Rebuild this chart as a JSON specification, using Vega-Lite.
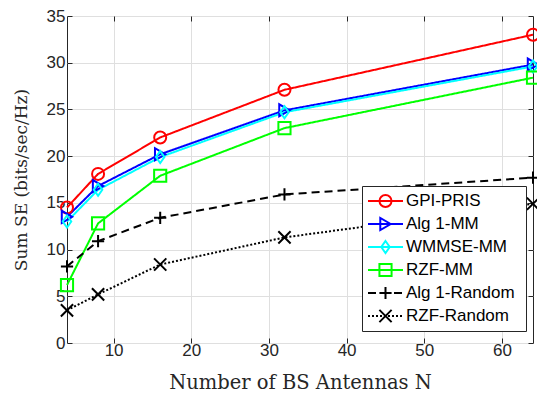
{
  "$schema": "https://vega.github.io/schema/vega-lite/v6.json",
  "width": 466,
  "height": 327,
  "autosize": {"type": "none"},
  "padding": {"left": 67, "top": 16, "right": 4, "bottom": 53},
  "background": "white",
  "config": {
    "view": {"stroke": "#262626", "strokeWidth": 1},
    "axis": {
      "domain": false,
      "grid": true,
      "gridColor": "#dfdfdf",
      "gridWidth": 1,
      "ticks": true,
      "tickSize": -5,
      "tickColor": "#262626",
      "labelFont": "Liberation Sans",
      "labelFontSize": 17,
      "labelColor": "#262626",
      "titleFont": "DejaVu Serif",
      "titleFontSize": 17,
      "titleFontWeight": "normal",
      "titleColor": "#262626"
    }
  },
  "data": {
    "values": [
      {"series": "GPI-PRIS", "N": 4, "SE": 14.5},
      {"series": "GPI-PRIS", "N": 8, "SE": 18.1},
      {"series": "GPI-PRIS", "N": 16, "SE": 22.0},
      {"series": "GPI-PRIS", "N": 32, "SE": 27.1},
      {"series": "GPI-PRIS", "N": 64, "SE": 33.0},
      {"series": "Alg 1-MM", "N": 4, "SE": 13.5},
      {"series": "Alg 1-MM", "N": 8, "SE": 16.8},
      {"series": "Alg 1-MM", "N": 16, "SE": 20.2},
      {"series": "Alg 1-MM", "N": 32, "SE": 24.9},
      {"series": "Alg 1-MM", "N": 64, "SE": 29.8},
      {"series": "WMMSE-MM", "N": 4, "SE": 13.0},
      {"series": "WMMSE-MM", "N": 8, "SE": 16.4},
      {"series": "WMMSE-MM", "N": 16, "SE": 19.9},
      {"series": "WMMSE-MM", "N": 32, "SE": 24.7},
      {"series": "WMMSE-MM", "N": 64, "SE": 29.6},
      {"series": "RZF-MM", "N": 4, "SE": 6.2},
      {"series": "RZF-MM", "N": 8, "SE": 12.8},
      {"series": "RZF-MM", "N": 16, "SE": 17.9},
      {"series": "RZF-MM", "N": 32, "SE": 23.0},
      {"series": "RZF-MM", "N": 64, "SE": 28.4},
      {"series": "Alg 1-Random", "N": 4, "SE": 8.2},
      {"series": "Alg 1-Random", "N": 8, "SE": 10.9},
      {"series": "Alg 1-Random", "N": 16, "SE": 13.4},
      {"series": "Alg 1-Random", "N": 32, "SE": 15.9},
      {"series": "Alg 1-Random", "N": 64, "SE": 17.7},
      {"series": "RZF-Random", "N": 4, "SE": 3.5},
      {"series": "RZF-Random", "N": 8, "SE": 5.2},
      {"series": "RZF-Random", "N": 16, "SE": 8.4},
      {"series": "RZF-Random", "N": 32, "SE": 11.3},
      {"series": "RZF-Random", "N": 64, "SE": 14.9}
    ]
  },
  "layer": [
    {
      "mark": {"type": "line", "strokeWidth": 2},
      "encoding": {
        "x": {
          "field": "N", "type": "quantitative",
          "scale": {"domain": [4, 64], "nice": false, "zero": false},
          "axis": {"values": [10, 20, 30, 40, 50, 60], "title": "Number of BS Antennas N", "titleFontSize": 19.5, "labelPadding": 4, "titlePadding": 15}
        },
        "y": {
          "field": "SE", "type": "quantitative",
          "scale": {"domain": [0, 35], "nice": false},
          "axis": {"values": [0, 5, 10, 15, 20, 25, 30, 35], "title": "Sum SE (bits/sec/Hz)", "labelPadding": 7, "titlePadding": 16}
        },
        "color": {
          "field": "series", "type": "nominal",
          "scale": {
            "domain": ["GPI-PRIS", "Alg 1-MM", "WMMSE-MM", "RZF-MM", "Alg 1-Random", "RZF-Random"],
            "range": ["#ff0000", "#0000ff", "#00ffff", "#00ff00", "#000000", "#000000"]
          },
          "legend": {
            "orient": "none", "legendX": 295, "legendY": 170,
            "title": " ", "titleOrient": "right", "titlePadding": 6, "titleFontSize": 8,
            "symbolType": "stroke", "symbolSize": 1225, "symbolStrokeWidth": 2,
            "clipHeight": 20, "rowPadding": 3, "padding": 5,
            "labelFont": "Liberation Sans", "labelFontSize": 17, "labelColor": "#000000", "labelOffset": 2,
            "strokeColor": "#262626", "fillColor": "white"
          }
        },
        "strokeDash": {
          "field": "series", "type": "nominal",
          "scale": {
            "domain": ["GPI-PRIS", "Alg 1-MM", "WMMSE-MM", "RZF-MM", "Alg 1-Random", "RZF-Random"],
            "range": [[1, 0], [1, 0], [1, 0], [1, 0], [8, 5], [2, 2]]
          },
          "legend": {
            "orient": "none", "legendX": 295, "legendY": 170,
            "title": " ", "titleOrient": "right", "titlePadding": 6, "titleFontSize": 8,
            "symbolType": "stroke", "symbolSize": 1225, "symbolStrokeWidth": 2,
            "clipHeight": 20, "rowPadding": 3, "padding": 5,
            "labelFont": "Liberation Sans", "labelFontSize": 17, "labelColor": "#000000", "labelOffset": 2,
            "strokeColor": "#262626", "fillColor": "white"
          }
        }
      }
    },
    {
      "mark": {"type": "point", "filled": false, "strokeWidth": 2, "opacity": 1},
      "encoding": {
        "x": {"field": "N", "type": "quantitative", "axis": {"orient": "top", "values": [10, 20, 30, 40, 50, 60], "labels": false, "title": null, "grid": false}},
        "y": {"field": "SE", "type": "quantitative", "axis": {"orient": "right", "values": [0, 5, 10, 15, 20, 25, 30, 35], "labels": false, "title": null, "grid": false}},
        "color": {
          "field": "series", "type": "nominal",
          "scale": {
            "domain": ["GPI-PRIS", "Alg 1-MM", "WMMSE-MM", "RZF-MM", "Alg 1-Random", "RZF-Random"],
            "range": ["#ff0000", "#0000ff", "#00ffff", "#00ff00", "#000000", "#000000"]
          },
          "legend": {
            "orient": "none", "legendX": 295, "legendY": 170, "title": null,
            "symbolSize": 130, "symbolStrokeWidth": 2, "symbolOffset": 10,
            "clipHeight": 20, "rowPadding": 3, "padding": 5,
            "labelFont": "Liberation Sans", "labelFontSize": 17, "labelExpr": "''"
          }
        },
        "shape": {
          "field": "series", "type": "nominal",
          "scale": {
            "domain": ["GPI-PRIS", "Alg 1-MM", "WMMSE-MM", "RZF-MM", "Alg 1-Random", "RZF-Random"],
            "range": ["circle", "triangle-right", "M0,-1L0.7,0L0,1L-0.7,0Z", "square", "M-1,0L1,0M0,-1L0,1", "M-1,-1L1,1M-1,1L1,-1"]
          },
          "legend": {
            "orient": "none", "legendX": 295, "legendY": 170, "title": null,
            "symbolSize": 130, "symbolStrokeWidth": 2, "symbolOffset": 10,
            "clipHeight": 20, "rowPadding": 3, "padding": 5,
            "labelFont": "Liberation Sans", "labelFontSize": 17, "labelExpr": "''"
          }
        },
        "size": {
          "field": "series", "type": "nominal",
          "scale": {
            "domain": ["GPI-PRIS", "Alg 1-MM", "WMMSE-MM", "RZF-MM", "Alg 1-Random", "RZF-Random"],
            "range": [144, 150, 220, 81, 144, 70]
          },
          "legend": null
        }
      }
    }
  ],
  "resolve": {
    "scale": {"color": "independent", "shape": "independent", "strokeDash": "independent", "size": "independent"},
    "axis": {"x": "independent", "y": "independent"}
  }
}
